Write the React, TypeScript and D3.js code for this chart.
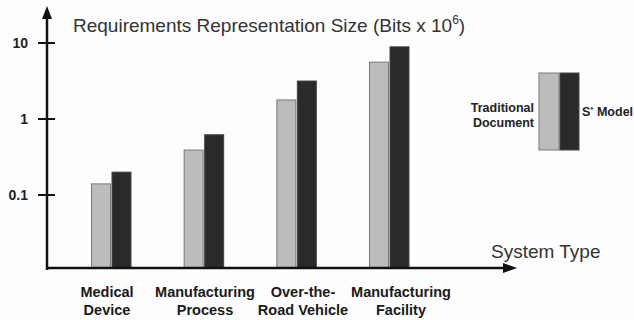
import React from "react";
import * as d3 from "d3";

const categories = [
  ["Medical", "Device"],
  ["Manufacturing", "Process"],
  ["Over-the-", "Road Vehicle"],
  ["Manufacturing", "Facility"],
];
const traditional = [0.14, 0.39, 1.78, 5.6];
const sModel = [0.2, 0.62, 3.16, 8.9];
const yTicks = [0.1, 1, 10];
const yTickLabels = ["0.1", "1", "10"];
const seriesNames = ["Traditional Document", "S* Model"];

const W = 634;
const H = 320;
const axisX = 47;
const axisY = 268;
const barW = 19;
const FONT = "'Liberation Sans', Arial, sans-serif";

export default function App() {
  const y = d3.scaleLog().domain([0.1, 10]).range([195, 43]);
  const x = d3
    .scalePoint<number>()
    .domain(categories.map((_, i) => i))
    .range([111, 389]);
  const xLabel = d3
    .scalePoint<number>()
    .domain(categories.map((_, i) => i))
    .range([107, 401]);
  const grayFill = "#bcbcbc";
  const darkFill = "#2a2a2a";

  return (
    <svg
      width={W}
      height={H}
      style={{ position: "absolute", left: 0, top: 0, background: "#fdfdfd" }}
      fontFamily={FONT}
    >
      <rect x={0} y={0} width={W} height={H} fill="#fdfdfd" />
      {/* bars */}
      {categories.map((_, i) => {
        const cx = x(i)!;
        return (
          <g key={i}>
            <rect
              x={cx - barW - 0.5}
              y={y(traditional[i])}
              width={barW}
              height={axisY - y(traditional[i])}
              fill={grayFill}
              stroke="#7a7a7a"
              strokeWidth={1}
            />
            <rect
              x={cx + 1}
              y={y(sModel[i])}
              width={barW}
              height={axisY - y(sModel[i])}
              fill={darkFill}
              stroke="#444"
              strokeWidth={1}
            />
          </g>
        );
      })}
      {/* y axis */}
      <line x1={axisX} x2={axisX} y1={16} y2={axisY + 2} stroke="#111" strokeWidth={2.5} />
      <path d={`M${axisX},6 L${axisX - 5},19 L${axisX + 5},19 Z`} fill="#111" />
      {yTicks.map((t, i) => (
        <g key={t}>
          <line x1={axisX - 9} x2={axisX + 8} y1={y(t)} y2={y(t)} stroke="#111" strokeWidth={2} />
          <text
            x={28}
            y={y(t)}
            dy="0.35em"
            textAnchor="end"
            fontSize={14}
            fontWeight="bold"
            fill="#222"
          >
            {yTickLabels[i]}
          </text>
        </g>
      ))}
      {/* x axis */}
      <line x1={axisX - 1} x2={506} y1={axisY} y2={axisY} stroke="#111" strokeWidth={2.5} />
      <path d={`M517,${axisY} L503,${axisY - 5} L503,${axisY + 5} Z`} fill="#111" />
      {/* category labels */}
      {categories.map((lines, i) => {
        const lx = xLabel(i)!;
        return (
          <text key={i} textAnchor="middle" fontSize={14.5} fontWeight="bold" fill="#1a1a1a">
            <tspan x={lx} y={297}>
              {lines[0]}
            </tspan>
            <tspan x={lx} y={315}>
              {lines[1]}
            </tspan>
          </text>
        );
      })}
      {/* titles */}
      <text x={73} y={32} fontSize={19} fill="#333">
        Requirements Representation Size (Bits x 10
        <tspan dy={-8} fontSize={12}>
          6
        </tspan>
        <tspan dy={8}>)</tspan>
      </text>
      <text x={491} y={258} fontSize={19} fill="#333">
        System Type
      </text>
      {/* legend */}
      <rect x={539} y={73} width={20} height={77} fill={grayFill} stroke="#7a7a7a" strokeWidth={1} />
      <rect x={560} y={73} width={19} height={77} fill={darkFill} stroke="#444" strokeWidth={1} />
      <text x={534} textAnchor="end" fontSize={12.5} fontWeight="bold" fill="#222">
        <tspan x={534} y={112}>
          {seriesNames[0].split(" ")[0]}
        </tspan>
        <tspan x={534} y={127}>
          {seriesNames[0].split(" ")[1]}
        </tspan>
      </text>
      <text x={582} y={116} fontSize={12.5} fontWeight="bold" fill="#222">
        S<tspan dy={-4} fontSize={8}>*</tspan>
        <tspan dy={4}> Model</tspan>
      </text>
    </svg>
  );
}
